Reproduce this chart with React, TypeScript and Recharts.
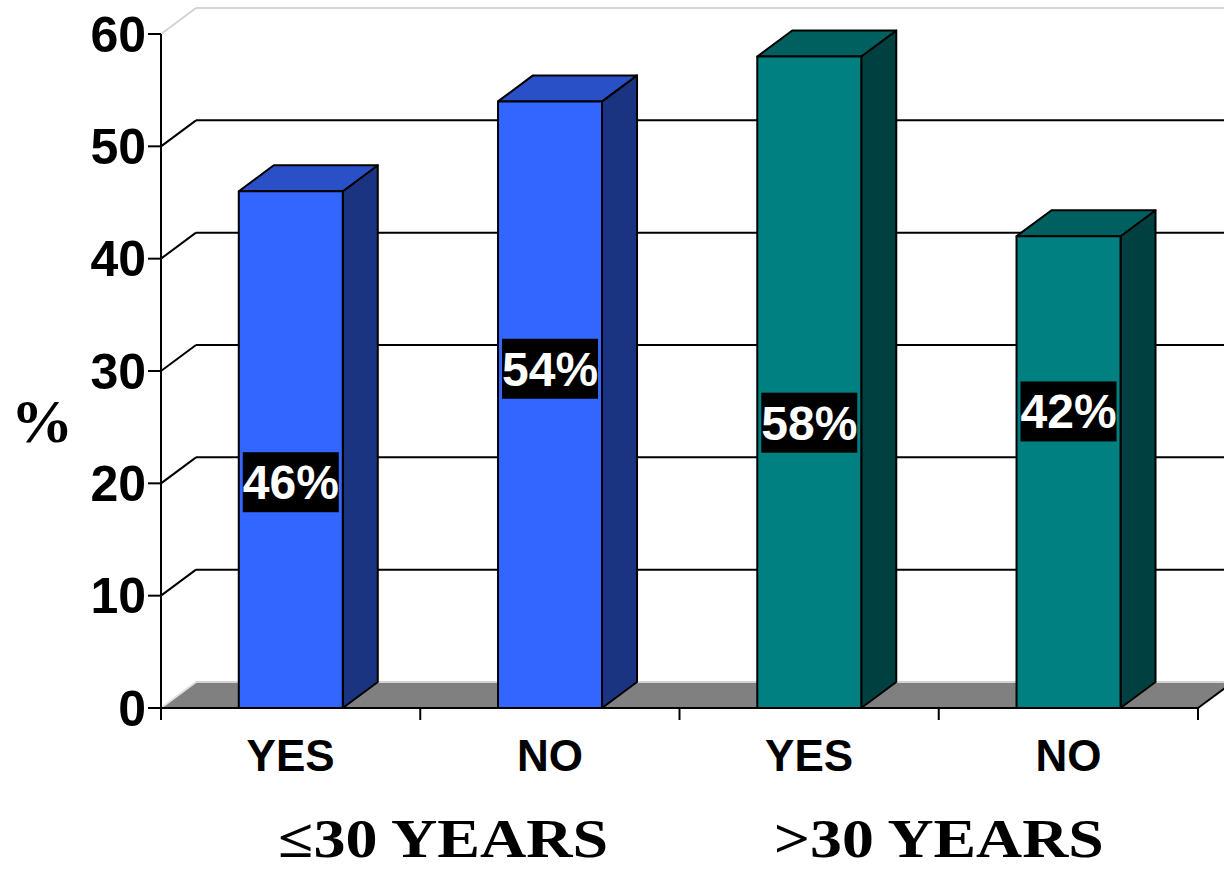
import { BarChart, Bar, XAxis, YAxis, ReferenceLine } from 'recharts';

const answers = ['YES', 'NO', 'YES', 'NO'];
const ageGroups = ['≤30 YEARS', '>30 YEARS'];
const groupOfBar = [0, 0, 1, 1];
const percents = [46, 54, 58, 42];
const yTicks = [0, 10, 20, 30, 40, 50, 60];
const wallLines = [10, 20, 30, 40, 50, 60];

// where each black value tag sits, in axis units
const tagLevels = [20.1, 30.2, 25.4, 26.4];
// horizontal nudge of each group caption from its group boundary
const groupNudge = [23, 0];

const data = answers.map((answer, i) => ({ answer, pct: percents[i], group: groupOfBar[i] }));

// 3-D projection offset
const DX = 35;
const DY = 26;

const SANS = '"Liberation Sans", Arial, sans-serif';
const SERIF = '"Liberation Serif", "Times New Roman", serif';

const palette = [
  { front: '#3366ff', top: '#2a50c8', side: '#1b3482' },
  { front: '#008080', top: '#006060', side: '#004040' },
];

function Box3D(props: any) {
  const { x, y, width, height, payload, index } = props;
  const c = palette[payload.group];
  const right = x + width;
  const bottom = y + height;
  const tagY = bottom - (height * tagLevels[index]) / payload.pct;
  const cx = x + width / 2;
  return (
    <g>
      <g stroke="#000" strokeWidth={2} strokeLinejoin="round">
        <polygon
          points={`${right},${y} ${right + DX},${y - DY} ${right + DX},${bottom - DY} ${right},${bottom}`}
          fill={c.side}
        />
        <polygon
          points={`${x},${y} ${x + DX},${y - DY} ${right + DX},${y - DY} ${right},${y}`}
          fill={c.top}
        />
        <rect x={x} y={y} width={width} height={height} fill={c.front} />
      </g>
      <rect x={cx - 48} y={tagY - 30} width={96} height={60} fill="#000" />
      <text
        x={cx}
        y={tagY + 17}
        textAnchor="middle"
        fill="#fff"
        fontSize={48}
        fontWeight="bold"
        fontFamily={SANS}
      >
        {payload.pct}%
      </text>
    </g>
  );
}

// floor slab under the bars, plus the stub of the value axis below it
function Floor(props: any) {
  const { x1, y1, x2 } = props;
  return (
    <g>
      <polygon
        points={`${x1},${y1} ${x1 + DX},${y1 - DY} ${x2 + DX},${y1 - DY} ${x2},${y1}`}
        fill="#808080"
      />
      <line x1={x1 + DX} y1={y1 - DY} x2={x2 + DX} y2={y1 - DY} stroke="#d4d4d4" strokeWidth={2} />
      <line x1={x1} y1={y1} x2={x1 + DX} y2={y1 - DY} stroke="#e0e0e0" strokeWidth={2} />
      <line x1={x2} y1={y1} x2={x2 + DX} y2={y1 - DY} stroke="#000" strokeWidth={2} />
      <line x1={x1} y1={y1} x2={x1} y2={y1 + 12} stroke="#000" strokeWidth={2} />
    </g>
  );
}

function WallLine(props: any) {
  const { x1, y1, x2, top } = props;
  const stroke = top ? '#d4d4d4' : '#000';
  return (
    <g stroke={stroke} strokeWidth={2} fill="none">
      <line x1={x1} y1={y1} x2={x1 + DX} y2={y1 - DY} />
      <line x1={x1 + DX} y1={y1 - DY} x2={x2 + DX} y2={y1 - DY} />
    </g>
  );
}

function AnswerTick(props: any) {
  const { x, y, payload, index } = props;
  const half = payload.offset || 129.6;
  const g = groupOfBar[index];
  const firstInGroup = groupOfBar.indexOf(g) === index;
  return (
    <g>
      <line x1={x + half} y1={y} x2={x + half} y2={y + 12} stroke="#000" strokeWidth={2} />
      <text
        x={x}
        y={y + 63}
        textAnchor="middle"
        fontSize={44}
        fontWeight="bold"
        fontFamily={SANS}
        fill="#000"
      >
        {payload.value}
      </text>
      {firstInGroup && (
        <text
          x={x + half + groupNudge[g]}
          y={y + 149}
          textAnchor="middle"
          fontSize={54}
          fontWeight="bold"
          fontFamily={SERIF}
          fill="#000"
          textLength={330}
          lengthAdjust="spacingAndGlyphs"
        >
          {ageGroups[g]}
        </text>
      )}
    </g>
  );
}

export default function App() {
  return (
    <div style={{ position: 'absolute', left: 0, top: 0, background: '#fff' }}>
      <BarChart
        width={1224}
        height={869}
        data={data}
        margin={{ top: 34, right: 26, bottom: 0, left: 0 }}
        barCategoryGap="30%"
      >
        <XAxis
          dataKey="answer"
          height={161}
          tickLine={false}
          tickSize={0}
          tickMargin={0}
          axisLine={{ stroke: '#000', strokeWidth: 2 }}
          tick={<AnswerTick />}
          interval={0}
        />
        <YAxis
          width={161}
          domain={[0, 60]}
          ticks={yTicks}
          tickSize={13}
          tickMargin={2}
          axisLine={{ stroke: '#000', strokeWidth: 2 }}
          tickLine={{ stroke: '#000', strokeWidth: 2 }}
          tick={{ fontSize: 50, fontWeight: 'bold', fontFamily: SANS, fill: '#000' }}
          label={{
            content: () => (
              <text
                x={42}
                y={442}
                textAnchor="middle"
                fontSize={62}
                fontWeight="bold"
                fontFamily={SERIF}
                fill="#000"
              >
                %
              </text>
            ),
          }}
        />
        {wallLines.map((v) => (
          <ReferenceLine
            key={v}
            y={v}
            zIndex={-50}
            shape={(p: any) => <WallLine {...p} top={v === 60} />}
          />
        ))}
        <ReferenceLine y={0} zIndex={-40} shape={(p: any) => <Floor {...p} />} />
        <Bar dataKey="pct" shape={<Box3D />} isAnimationActive={false} />
      </BarChart>
    </div>
  );
}
